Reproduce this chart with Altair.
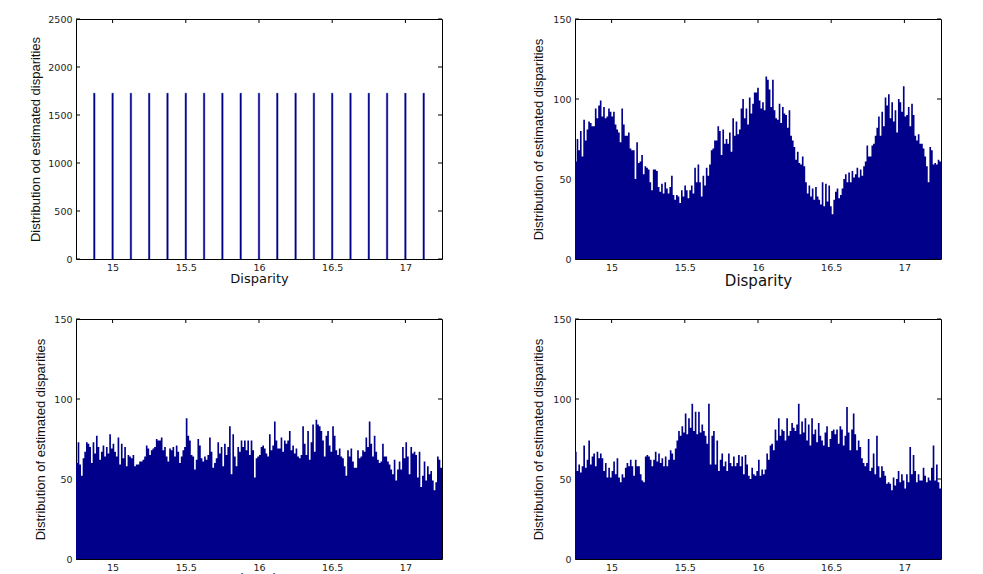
import altair as alt
import pandas as pd

NAVY = "#00008B"
X_MIN, X_MAX = 14.75, 17.25
W, H = 366, 240

x_ticks = [15, 15.5, 16, 16.5, 17]
y_ticks_spike = [0, 500, 1000, 1500, 2000, 2500]
y_ticks_hist = [0, 50, 100, 150]

# top-left: discrete estimates (spikes)
spike_centers = [14.875, 15.0, 15.125, 15.25, 15.375, 15.5, 15.625, 15.75, 15.875, 16.0,
                 16.125, 16.25, 16.375, 16.5, 16.625, 16.75, 16.875, 17.0, 17.125]
spike_counts = [1727, 1727, 1727, 1727, 1727, 1727, 1727, 1727, 1727, 1727,
                1727, 1727, 1727, 1727, 1727, 1727, 1727, 1727, 1727]
spike_width = 0.01

# top-right histogram
counts_tr = [61,75,68,80,64,87,74,81,86,85,83,83,94,88,96,99,89,95,88,89,94,92,89,92,84,81,79,73,94,84,
             77,77,79,69,68,68,50,73,60,61,65,53,58,57,56,48,43,56,56,55,45,42,47,41,48,44,41,45,52,40,
             37,40,39,35,43,39,46,43,38,43,46,41,57,48,59,48,39,52,46,57,52,59,68,69,74,74,83,80,65,81,
             72,75,72,79,67,88,77,86,78,81,94,100,88,94,84,101,91,97,104,104,107,99,94,98,93,114,112,106,95,112,
             93,88,87,97,85,95,91,90,82,93,77,74,70,62,67,60,59,64,58,48,41,46,39,44,37,45,39,37,34,48,
             33,47,36,46,33,28,37,42,44,38,40,44,50,53,48,54,48,55,51,53,57,51,56,52,58,61,71,64,64,71,
             72,77,82,89,77,92,83,101,96,103,88,98,86,93,79,100,98,92,108,89,90,95,83,97,90,77,74,78,72,72,
             69,64,58,48,70,68,59,60,59,62,61]

# bottom-left histogram
counts_bl = [60,73,59,52,63,67,73,72,70,60,73,66,77,70,62,67,71,64,70,66,78,69,72,67,64,76,59,72,63,70,
             58,65,64,63,65,58,59,59,61,61,62,64,71,69,65,68,69,70,75,74,74,76,68,70,64,61,69,68,70,64,
             71,67,60,64,68,70,88,77,74,65,64,56,62,75,71,63,61,64,62,65,76,67,57,60,63,73,66,70,58,72,
             65,70,83,53,78,64,58,70,67,74,70,74,68,74,65,74,68,51,63,64,65,70,71,69,66,64,78,68,71,86,
             74,69,69,76,67,74,72,74,80,68,71,66,69,64,63,65,83,72,65,80,62,73,84,67,87,84,83,80,74,64,
             77,80,71,67,83,77,68,65,69,64,63,58,52,68,64,69,61,57,57,68,63,64,68,67,76,70,86,72,64,77,
             67,62,60,61,72,64,64,61,59,56,53,62,49,56,61,56,70,63,73,64,53,70,66,67,65,51,67,45,52,61,
             49,58,53,55,49,43,48,64,62,57]

# bottom-right histogram
counts_br = [67,55,59,54,58,71,57,62,74,59,64,66,58,67,63,66,63,55,60,51,57,51,55,61,53,63,51,48,53,51,
             57,60,58,62,58,52,62,58,58,53,49,48,64,65,64,62,58,62,67,61,66,60,63,58,64,58,62,68,66,62,
             69,74,80,77,83,79,91,78,88,82,97,80,92,78,92,79,84,80,77,72,97,59,77,80,59,74,55,62,66,58,
             61,55,66,60,58,64,58,60,65,58,64,53,65,59,52,50,57,53,52,55,62,52,56,53,56,66,62,71,72,68,
             81,74,88,77,81,80,74,88,77,80,85,82,80,84,97,78,86,79,88,74,84,71,88,78,81,73,85,77,74,71,
             79,83,70,75,80,81,78,81,72,83,81,71,77,95,79,68,81,91,78,68,74,70,63,60,58,60,75,55,57,66,
             53,77,58,51,58,55,52,47,48,47,43,51,46,50,55,48,53,49,44,53,48,70,53,65,55,48,53,49,49,57,
             52,48,51,49,57,71,49,59,48,44]


def hist_frame(counts):
    # step outline: one point per bin start, plus the closing edge at X_MAX
    n = len(counts)
    w = (X_MAX - X_MIN) / n
    xs = [X_MIN + i * w for i in range(n)] + [X_MAX]
    ys = list(counts) + [counts[-1]]
    return pd.DataFrame({"x0": xs, "count": ys, "base": [0] * (n + 1)})


def spike_frame():
    return pd.DataFrame({
        "x0": [c - spike_width / 2 for c in spike_centers],
        "x1": [c + spike_width / 2 for c in spike_centers],
        "count": spike_counts,
        "base": [0] * len(spike_centers),
    })


def panel(df, ymax, yticks, ytitle, xtitle_size, xtitle_y, ytitle_x, spikes=False):
    xs = alt.Scale(domain=[X_MIN, X_MAX], nice=False, zero=False)
    ys = alt.Scale(domain=[0, ymax], nice=False)
    xaxis = alt.Axis(values=x_ticks, ticks=False, domain=False, grid=False, format="~f",
                     labelFont="DejaVu Sans", labelFontSize=9.5, labelColor="#222",
                     labelPadding=3, labelFlush=False,
                     title="Disparity", titleFont="DejaVu Sans", titleFontSize=xtitle_size,
                     titleFontWeight="normal", titleColor="#111",
                     titleBaseline="alphabetic", titleY=xtitle_y, titleX=W / 2)
    yaxis = alt.Axis(values=yticks, ticks=False, domain=False, grid=False, format="~f",
                     labelFont="DejaVu Sans", labelFontSize=9.5, labelColor="#222",
                     labelPadding=4, labelFlush=False,
                     title=ytitle, titleFont="Liberation Sans", titleFontSize=13,
                     titleFontWeight="normal", titleColor="#111",
                     titleX=ytitle_x, titleY=H / 2)
    if spikes:
        marks = alt.Chart(df).mark_bar(color=NAVY, stroke=NAVY, strokeWidth=0.4).encode(
            x=alt.X("x0:Q", scale=xs, axis=xaxis),
            x2="x1:Q",
            y=alt.Y("count:Q", scale=ys, axis=yaxis),
            y2="base:Q",
        )
    else:
        marks = alt.Chart(df).mark_area(color=NAVY, interpolate="step-after", opacity=1).encode(
            x=alt.X("x0:Q", scale=xs, axis=xaxis),
            y=alt.Y("count:Q", scale=ys, axis=yaxis),
            y2="base:Q",
        )
    xt = pd.DataFrame({"v": x_ticks})
    yt = pd.DataFrame({"v": yticks})
    top_t = alt.Chart(xt).mark_rule(color="black", strokeWidth=1).encode(
        x=alt.X("v:Q", scale=xs, title="Disparity"), y=alt.value(0), y2=alt.value(4))
    left_t = alt.Chart(yt).mark_rule(color="black", strokeWidth=1).encode(
        y=alt.Y("v:Q", scale=ys, title=ytitle), x=alt.value(0), x2=alt.value(4))
    right_t = alt.Chart(yt).mark_rule(color="black", strokeWidth=1).encode(
        y=alt.Y("v:Q", scale=ys, title=ytitle), x=alt.value(W - 4), x2=alt.value(W))
    return alt.layer(top_t, left_t, right_t, marks).properties(width=W, height=H)


p_tl = panel(spike_frame(), 2500, y_ticks_spike, "Distribution od estimated disparities", 13, 23.5, -34, spikes=True)
p_tr = panel(hist_frame(counts_tr), 150, y_ticks_hist, "Distribution of estimated disparities", 15, 26, -30)
p_bl = panel(hist_frame(counts_bl), 150, y_ticks_hist, "Distribution of estimated disparities", 13, 23.5, -29)
p_br = panel(hist_frame(counts_br), 150, y_ticks_hist, "Distribution of estimated disparities", 15, 26, -30)

chart = alt.concat(p_tl, p_tr, p_bl, p_br, columns=2,
                   spacing={"row": 60, "column": 133}, bounds="flush").properties(
    padding={"left": 28, "top": 13, "right": 5, "bottom": 5},
    background="white",
).configure_view(stroke="black", strokeWidth=1)

chart.save("out.html", embed_options={"renderer": "svg", "actions": False})
